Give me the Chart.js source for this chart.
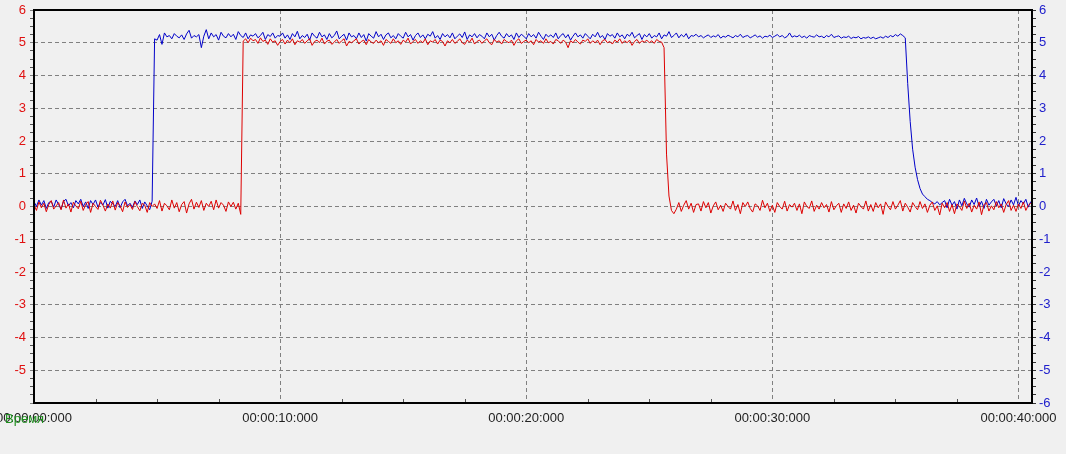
<!DOCTYPE html>
<html>
<head>
<meta charset="utf-8">
<script src="https://cdn.jsdelivr.net/npm/chart.js@4.4.1/dist/chart.umd.min.js"></script>
<style>
html,body{margin:0;padding:0;background:#f0f0f0;overflow:hidden;}
canvas{display:block;}
</style>
</head>
<body>
<canvas id="c" width="1066" height="454"></canvas>
<script>
// sample step of the recording, seconds
const sampleStep = 0.1;
const xAxisMax = 40.55;
const yTicksLeft = [6,5,4,3,2,1,0,-1,-2,-3,-4,-5];
const yTicksRight = [6,5,4,3,2,1,0,-1,-2,-3,-4,-5,-6];
const xTickLabels = ["00:00:00:000","00:00:10:000","00:00:20:000","00:00:30:000","00:00:40:000"];
const xTickValues = [0,10,20,30,40];
const xAxisTitle = "Время";

// blue channel (right axis), one row per second
const blueValues = [
0.15,0.00,0.20,0.04,0.18,-0.06,0.12,0.16,-0.02,0.20,
0.06,-0.08,0.16,0.22,0.02,0.12,-0.04,0.18,0.08,0.22,
0.00,0.14,-0.06,0.18,0.06,0.20,-0.02,0.12,0.04,0.21,
-0.05,0.16,0.08,0.00,0.18,-0.04,0.14,0.22,0.02,0.10,
-0.03,0.17,0.06,0.20,-0.06,0.14,0.02,-0.10,0.16,5.12,
5.08,5.25,4.95,5.30,5.18,5.22,5.12,5.28,5.20,5.15,
5.24,5.10,5.27,5.38,5.14,5.22,5.18,5.25,4.85,5.20,
5.40,5.12,5.30,5.18,5.25,5.08,5.32,5.20,5.15,5.28,
5.18,5.26,5.10,5.34,5.22,5.16,5.30,5.12,5.24,5.20,
5.28,5.15,5.22,5.32,5.10,5.25,5.19,5.30,5.14,5.22,
5.20,5.30,5.14,5.24,5.10,5.28,5.18,5.35,5.12,5.22,
5.16,5.26,5.08,5.30,5.20,5.14,5.32,5.18,5.24,5.10,
5.28,5.15,5.22,5.36,5.12,5.20,5.26,5.08,5.30,5.18,
5.22,5.12,5.30,5.16,5.25,5.05,5.28,5.20,5.14,5.34,
5.18,5.26,5.10,5.24,5.30,5.15,5.22,5.12,5.28,5.20,
5.14,5.32,5.18,5.25,5.08,5.22,5.30,5.16,5.24,5.12,
5.26,5.20,5.34,5.14,5.22,5.10,5.28,5.18,5.25,5.15,
5.30,5.12,5.20,5.27,5.16,5.33,5.10,5.24,5.18,5.28,
5.15,5.25,5.20,5.12,5.30,5.18,5.26,5.08,5.22,5.32,
5.20,5.14,5.28,5.18,5.24,5.10,5.30,5.16,5.26,5.20,
5.12,5.28,5.18,5.25,5.14,5.32,5.20,5.10,5.26,5.18,
5.24,5.16,5.30,5.12,5.22,5.28,5.15,5.25,5.08,5.20,
5.30,5.18,5.24,5.14,5.28,5.20,5.12,5.26,5.18,5.32,
5.16,5.22,5.10,5.28,5.20,5.25,5.14,5.30,5.18,5.24,
5.12,5.26,5.20,5.32,5.15,5.22,5.28,5.10,5.25,5.18,
5.28,5.14,5.22,5.18,5.30,5.12,5.24,5.20,5.34,5.16,
5.22,5.30,5.15,5.25,5.18,5.28,5.12,5.22,5.20,5.26,
5.18,5.22,5.15,5.20,5.24,5.16,5.21,5.18,5.25,5.14,
5.20,5.17,5.23,5.19,5.15,5.22,5.18,5.26,5.16,5.20,
5.22,5.15,5.19,5.24,5.17,5.21,5.14,5.20,5.18,5.23,
5.16,5.20,5.25,5.18,5.22,5.15,5.19,5.30,5.17,5.21,
5.18,5.23,5.16,5.20,5.14,5.22,5.19,5.17,5.24,5.18,
5.20,5.15,5.22,5.18,5.26,5.16,5.19,5.21,5.14,5.18,
5.16,5.20,5.13,5.17,5.15,5.19,5.12,5.16,5.14,5.18,
5.13,5.17,5.12,5.15,5.18,5.14,5.20,5.16,5.22,5.18,
5.25,5.20,5.27,5.22,5.15,3.75,2.60,1.75,1.20,0.82,
0.55,0.38,0.30,0.22,0.18,0.12,0.08,0.15,0.05,0.12,
0.18,-0.04,0.22,0.04,0.15,-0.08,0.20,0.02,0.25,0.08,
-0.02,0.20,0.06,0.26,0.00,0.16,-0.06,0.22,0.04,0.14,
0.22,0.02,0.18,-0.04,0.24,0.08,0.00,0.20,0.05,0.28,
0.02,0.18,0.08,0.22,-0.02,0.15
];

// red channel (left axis), one row per second
const redValues = [
0.05,-0.12,0.14,-0.04,0.10,-0.16,0.06,0.18,-0.08,0.02,
0.12,-0.10,0.20,-0.05,0.08,-0.17,0.13,0.02,-0.07,0.16,
-0.12,0.06,0.15,-0.18,0.10,0.00,-0.09,0.19,0.04,-0.14,
0.08,-0.05,0.17,-0.11,0.12,0.02,-0.16,0.14,-0.03,0.06,
-0.09,0.15,0.00,-0.13,0.10,0.04,-0.18,0.12,0.00,0.08,
-0.06,0.18,-0.14,0.10,0.02,-0.10,0.20,-0.05,0.12,-0.16,
0.06,0.15,-0.20,0.08,0.22,-0.08,0.13,-0.03,0.18,-0.12,
0.10,0.00,0.16,-0.10,0.20,-0.05,0.12,0.04,-0.15,0.14,
0.00,0.13,-0.08,0.10,-0.24,5.05,5.12,5.00,5.14,5.06,
5.10,4.98,5.15,5.04,5.08,4.95,5.12,5.02,5.06,4.92,
5.04,5.10,4.96,5.08,5.00,5.12,4.94,5.06,5.02,5.10,
4.98,5.06,5.12,4.92,5.04,5.08,5.00,5.14,4.96,5.05,
5.08,4.95,5.02,5.10,4.98,5.06,5.12,4.90,5.04,5.00,
5.06,5.12,4.96,5.04,5.08,4.94,5.10,5.02,4.98,5.08,
5.00,5.06,4.92,5.10,5.04,4.98,5.12,5.00,5.06,4.95,
5.08,5.02,5.14,4.96,5.04,5.10,4.98,5.06,5.00,5.12,
4.94,5.06,5.02,5.10,4.96,5.08,5.04,4.90,5.06,5.00,
5.10,4.98,5.04,5.12,5.00,4.95,5.08,5.02,5.14,4.96,
5.04,5.08,4.98,5.06,5.12,5.00,4.94,5.10,5.02,5.06,
4.96,5.10,5.04,5.00,5.08,4.92,5.06,5.12,4.98,5.04,
5.08,5.00,5.06,4.94,5.10,5.02,5.06,4.98,5.12,5.00,
5.04,4.96,5.10,5.06,4.98,5.08,5.02,4.85,5.06,5.00,
5.10,5.02,4.96,5.08,5.04,5.12,4.98,5.06,5.00,5.08,
4.94,5.06,5.10,5.00,5.04,4.96,5.08,5.02,5.12,4.98,
5.06,5.00,5.08,4.92,5.04,5.10,4.98,5.06,5.02,5.08,
5.00,5.06,4.98,5.10,5.04,5.02,4.85,1.60,0.32,-0.12,
-0.22,-0.08,0.12,-0.15,0.04,0.18,-0.08,0.10,-0.18,0.06,
0.08,-0.14,0.15,-0.04,0.12,-0.20,0.02,0.14,-0.10,0.04,
-0.15,0.10,0.00,-0.08,0.17,-0.12,0.06,-0.22,0.12,0.00,
0.14,-0.06,-0.17,0.08,0.02,-0.12,0.19,-0.04,0.10,-0.15,
0.04,-0.18,0.12,0.00,-0.08,0.16,-0.14,0.06,-0.02,0.10,
-0.12,0.08,-0.22,0.14,0.00,-0.06,0.17,-0.15,0.04,-0.08,
0.12,-0.04,0.06,-0.17,0.15,-0.10,0.02,0.10,-0.18,0.08,
-0.06,0.14,-0.12,0.04,-0.20,0.10,0.00,-0.08,0.17,-0.14,
0.06,-0.15,0.12,-0.04,0.08,-0.24,0.14,0.00,-0.10,0.15,
-0.08,0.04,0.18,-0.14,0.10,-0.02,-0.17,0.12,0.00,-0.10,
0.15,-0.06,0.08,-0.18,0.04,0.14,-0.12,0.02,-0.26,0.10,
-0.04,0.12,-0.15,0.06,-0.22,0.08,0.00,-0.12,0.17,-0.06,
0.10,-0.17,0.04,-0.08,0.14,-0.25,0.06,0.12,-0.14,0.02,
-0.10,0.15,-0.04,0.08,-0.18,0.06,0.18,-0.12,0.04,-0.15,
0.08,-0.06,0.14,-0.12,0.04,0.10
];

const toPoints = vals => vals.map((v, i) => ({x: Math.round(i * sampleStep * 10) / 10, y: v}));

const FONT = {family: '"Liberation Sans", Arial, sans-serif', size: 13};
const GRID = '#808080';

const framePlugin = {
  id: 'frame',
  afterDatasetsDraw(chart) {
    const {ctx, chartArea: a, scales} = chart;
    ctx.save();
    // minor x ticks inside the plot
    ctx.strokeStyle = '#555';
    ctx.lineWidth = 1;
    for (let t = 2.5; t < xAxisMax; t += 2.5) {
      if (t % 10 === 0) continue;
      const px = Math.round(scales.x.getPixelForValue(t)) + 0.5;
      ctx.beginPath();
      ctx.moveTo(px, a.bottom - 4);
      ctx.lineTo(px, a.bottom);
      ctx.stroke();
    }
    ctx.strokeStyle = '#000';
    ctx.lineWidth = 2;
    ctx.strokeRect(a.left, a.top, a.right - a.left, a.bottom - a.top);
    ctx.restore();
  },
  afterDraw(chart) {
    const {ctx} = chart;
    ctx.save();
    ctx.font = '13px "Liberation Sans", Arial, sans-serif';
    ctx.fillStyle = '#1d8f1d';
    ctx.textBaseline = 'middle';
    ctx.textAlign = 'left';
    ctx.fillText(xAxisTitle, 5, 419);
    ctx.restore();
  }
};

new Chart(document.getElementById('c'), {
  type: 'line',
  data: {
    datasets: [
      {label: 'red', data: toPoints(redValues), borderColor: '#dd0000', borderWidth: 1, pointRadius: 0, yAxisID: 'y', tension: 0},
      {label: 'blue', data: toPoints(blueValues), borderColor: '#0000c8', borderWidth: 1, pointRadius: 0, yAxisID: 'y2', tension: 0}
    ]
  },
  options: {
    responsive: false,
    devicePixelRatio: 1,
    animation: false,
    layout: {padding: {top: 10, left: 0, right: 0, bottom: 0}},
    plugins: {legend: {display: false}, tooltip: {enabled: false}},
    scales: {
      x: {
        type: 'linear',
        min: 0, max: xAxisMax,
        border: {display: false, dash: [4, 3]},
        grid: {
          drawTicks: false,
          color: c => (c.tick && c.tick.value > 0) ? GRID : 'rgba(0,0,0,0)',
          lineWidth: 1
        },
        afterBuildTicks: s => { s.ticks = xTickValues.map(v => ({value: v})); },
        ticks: {
          autoSkip: false,
          maxRotation: 0,
          padding: 8,
          color: '#222',
          font: FONT,
          callback: v => { const k = xTickValues.indexOf(v); return k >= 0 ? xTickLabels[k] : ''; }
        },
        afterFit: s => { s.height = 51; s.paddingLeft = 0; s.paddingRight = 0; }
      },
      y: {
        position: 'left',
        min: -6, max: 6,
        border: {display: false, dash: [4, 3]},
        grid: {
          drawTicks: true,
          tickLength: 4,
          tickBorderDash: [],
          tickColor: c => Number.isInteger(c.tick.value) ? GRID : '#555',
          color: c => (Number.isInteger(c.tick.value) && Math.abs(c.tick.value) < 6) ? GRID : 'rgba(0,0,0,0)'
        },
        ticks: {
          stepSize: 0.25,
          autoSkip: false,
          padding: 4,
          color: '#e01010',
          font: FONT,
          callback: v => yTicksLeft.includes(v) ? String(v) : ''
        },
        afterFit: s => { s.width = 34; s.paddingTop = 0; s.paddingBottom = 0; }
      },
      y2: {
        position: 'right',
        min: -6, max: 6,
        border: {display: false},
        grid: {
          drawOnChartArea: false,
          drawTicks: true,
          tickLength: 4,
          tickBorderDash: [],
          tickColor: '#333'
        },
        ticks: {
          stepSize: 0.25,
          autoSkip: false,
          padding: 3,
          color: '#2020cc',
          font: FONT,
          callback: v => yTicksRight.includes(v) ? String(v) : ''
        },
        afterFit: s => { s.width = 34; s.paddingTop = 0; s.paddingBottom = 0; }
      }
    }
  },
  plugins: [framePlugin]
});
</script>
</body>
</html>
